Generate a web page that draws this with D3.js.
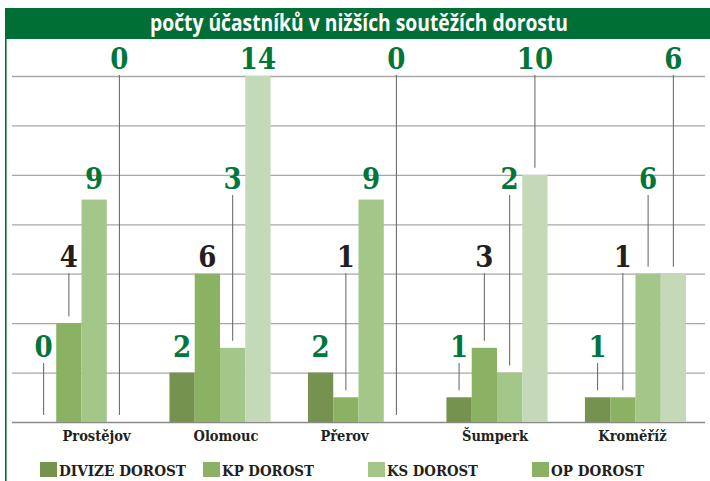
<!DOCTYPE html>
<html>
<head>
<meta charset="utf-8">
<script src="https://cdn.jsdelivr.net/npm/d3@7/dist/d3.min.js"></script>
<style>
  html, body { margin: 0; padding: 0; background: #fff; }
  svg { display: block; }
  .serif { font-family: "DejaVu Serif Condensed", "DejaVu Serif", serif; font-weight: bold; }
</style>
</head>
<body>
<svg id="chart" width="710" height="481"></svg>
<script>
// ---- data ----
const title = "počty účastníků v nižších soutěžích dorostu";
const categories = ["Prostějov", "Olomouc", "Přerov", "Šumperk", "Kroměříž"];
const seriesNames = ["DIVIZE DOROST", "KP DOROST", "KS DOROST", "OP DOROST"];
const divizeValues = [0, 2, 2, 1, 1];
const kpValues     = [4, 6, 1, 3, 1];
const ksValues     = [9, 3, 9, 2, 6];
const opValues     = [0, 14, 0, 10, 6];
const gridTicks    = [0, 2, 4, 6, 8, 10, 12, 14];

// ---- styles / layout ----
const barColors    = ["#76924f", "#8bb262", "#a3c689", "#c4d9b7"];
const legendColors = ["#76924f", "#8bb262", "#a3c689", "#8bb262"];
const labelColors  = ["#00763a", "#231f20", "#00763a", "#00763a"];
const labelBaselines = [357, 267, 189, 69]; // tier per series
const catLabelDx = [15, 6, -14, -2, -3];
const legendX = [40, 203, 368, 532];
const legendTextLen = [127, 92, 91, 93];

const seriesValues = [divizeValues, kpValues, ksValues, opValues];
const rows = categories.map((c, i) => ({
  cat: c, i,
  vals: seriesNames.map((s, j) => ({ series: s, j, value: seriesValues[j][i] }))
}));

const svg = d3.select("#chart");
const green = "#006f35";

// frame: left border and title bar
svg.append("rect").attr("x", 5).attr("y", 8).attr("width", 1.6).attr("height", 473).attr("fill", green);
svg.append("rect").attr("x", 5).attr("y", 8).attr("width", 705).attr("height", 31).attr("fill", green);
svg.append("text")
  .attr("x", 150).attr("y", 31)
  .attr("textLength", 418).attr("lengthAdjust", "spacingAndGlyphs")
  .attr("font-family", "'Open Sans', 'Noto Sans', sans-serif")
  .attr("font-weight", "bold").attr("font-size", 23)
  .attr("fill", "#fff").text(title);

// scales
const x0 = d3.scaleBand().domain(categories).range([12, 705]).paddingInner(0.27).paddingOuter(0.137);
const x1 = d3.scaleBand().domain(seriesNames).range([0, x0.bandwidth()]).padding(0);
const y = d3.scaleLinear().domain([0, 14]).range([422, 76]);

// gridlines
const gridAxis = d3.axisLeft(y).tickValues(gridTicks).tickSize(-(705 - 12)).tickFormat("");
const gg = svg.append("g").attr("transform", "translate(12,0)").call(gridAxis);
gg.select(".domain").remove();
gg.selectAll(".tick line")
  .attr("stroke", d => d === 0 ? "#8a8a8a" : "#a7a7a7")
  .attr("stroke-width", d => d === 0 ? 1.6 : 1.3);

// bars
const groups = svg.append("g").selectAll("g").data(rows).join("g")
  .attr("transform", d => `translate(${x0(d.cat)},0)`);

groups.selectAll("rect").data(d => d.vals.filter(v => v.value > 0)).join("rect")
  .attr("x", v => x1(v.series))
  .attr("y", v => y(v.value))
  .attr("width", x1.bandwidth())
  .attr("height", v => y(0) - y(v.value))
  .attr("fill", v => barColors[v.j]);

// leader lines
groups.selectAll("line.leader").data(d => d.vals.filter(v => y(v.value) - labelBaselines[v.j] > 20)).join("line")
  .attr("class", "leader")
  .attr("x1", v => x1(v.series) + x1.bandwidth() / 2)
  .attr("x2", v => x1(v.series) + x1.bandwidth() / 2)
  .attr("y1", v => labelBaselines[v.j] + 6)
  .attr("y2", v => y(v.value) - 7)
  .attr("stroke", "#6d6e71").attr("stroke-width", 1.1);

// value labels
groups.selectAll("text.val").data(d => d.vals).join("text")
  .attr("class", "val serif")
  .attr("x", v => x1(v.series) + x1.bandwidth() / 2)
  .attr("y", v => labelBaselines[v.j])
  .attr("text-anchor", "middle")
  .attr("font-size", 29)
  .attr("fill", v => labelColors[v.j])
  .text(v => v.value);

// category labels
svg.append("g").selectAll("text").data(rows).join("text")
  .attr("class", "serif")
  .attr("x", d => x0(d.cat) + x0.bandwidth() / 2 + catLabelDx[d.i])
  .attr("y", 441)
  .attr("text-anchor", "middle")
  .attr("font-size", 14.5)
  .attr("fill", "#231f20")
  .text(d => d.cat);

// legend
const lg = svg.append("g").selectAll("g").data(seriesNames).join("g")
  .attr("transform", (d, j) => `translate(${legendX[j]},462)`);
lg.append("rect").attr("width", 17).attr("height", 15).attr("fill", (d, j) => legendColors[j]);
lg.append("text")
  .attr("class", "serif")
  .attr("x", 19).attr("y", 14)
  .attr("textLength", (d, j) => legendTextLen[j]).attr("lengthAdjust", "spacingAndGlyphs")
  .attr("font-size", 15.5)
  .attr("fill", "#231f20")
  .text(d => d);
</script>
</body>
</html>
